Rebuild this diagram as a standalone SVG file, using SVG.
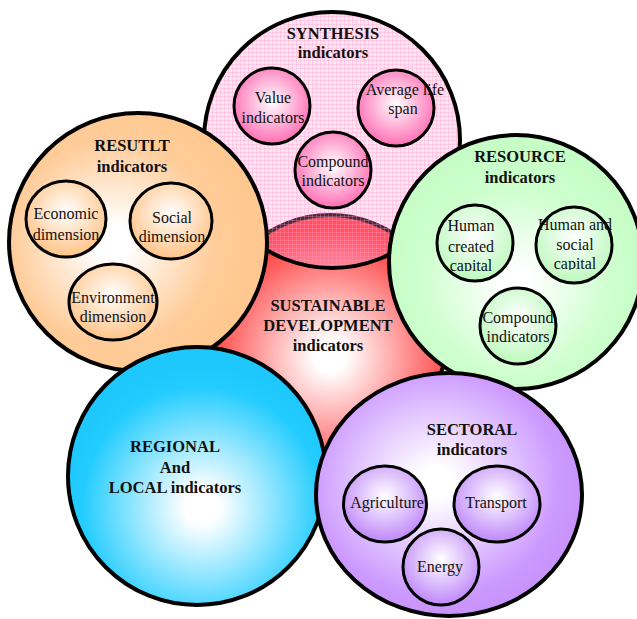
<svg xmlns="http://www.w3.org/2000/svg" width="637" height="619" viewBox="0 0 637 619">
<style>
.big{stroke:#000;stroke-width:4}
.sub{stroke:#000;stroke-width:3}
.t{font-family:"Liberation Serif","Times New Roman",serif;font-weight:bold;font-size:16.5px;fill:#111;text-anchor:middle}
.s{font-family:"Liberation Serif","Times New Roman",serif;font-size:16px;fill:#111;text-anchor:middle}
</style>
<defs>
<radialGradient id="gRed" cx="50%" cy="60%" r="55%"><stop offset="0" stop-color="#fff"/><stop offset="0.12" stop-color="#fff"/><stop offset="1" stop-color="#ff3333"/></radialGradient>
<radialGradient id="gOr" cx="40%" cy="50%" r="55%"><stop offset="0" stop-color="#fff"/><stop offset="0.12" stop-color="#fff"/><stop offset="0.72" stop-color="#ffcc99"/><stop offset="1" stop-color="#ffc890"/></radialGradient>
<radialGradient id="gGr" cx="50%" cy="58%" r="55%"><stop offset="0" stop-color="#fff"/><stop offset="0.1" stop-color="#fff"/><stop offset="0.7" stop-color="#ccffcc"/><stop offset="1" stop-color="#c6fcc6"/></radialGradient>
<radialGradient id="gBl" cx="52%" cy="62%" r="55%"><stop offset="0" stop-color="#fff"/><stop offset="0.12" stop-color="#fff"/><stop offset="0.85" stop-color="#22ccff"/><stop offset="1" stop-color="#1ec8fc"/></radialGradient>
<radialGradient id="gPu" cx="45%" cy="45%" r="55%"><stop offset="0" stop-color="#fff"/><stop offset="0.12" stop-color="#fff"/><stop offset="0.85" stop-color="#cc99ff"/><stop offset="1" stop-color="#c894fc"/></radialGradient>
<radialGradient id="sPk" cx="50%" cy="45%" r="55%"><stop offset="0" stop-color="#fff"/><stop offset="1" stop-color="#ff6fb5"/></radialGradient>
<radialGradient id="sOr" cx="50%" cy="40%" r="55%"><stop offset="0" stop-color="#fff"/><stop offset="1" stop-color="#ffc890"/></radialGradient>
<radialGradient id="sGr" cx="50%" cy="40%" r="55%"><stop offset="0" stop-color="#fff"/><stop offset="1" stop-color="#c2f9c2"/></radialGradient>
<radialGradient id="sPu" cx="50%" cy="40%" r="55%"><stop offset="0" stop-color="#fff"/><stop offset="1" stop-color="#c490fa"/></radialGradient>
<pattern id="grid" width="4" height="4" patternUnits="userSpaceOnUse">
<rect width="4" height="4" fill="#ffa0cf" fill-opacity="0.28"/>
<rect width="4" height="1" fill="#ff99cc" fill-opacity="0.3"/>
<rect width="1" height="4" fill="#ff99cc" fill-opacity="0.3"/>
</pattern>
<clipPath id="c1"><rect x="420" y="200" width="110" height="71"/></clipPath>
<clipPath id="c2"><rect x="520" y="200" width="110" height="70"/></clipPath>
</defs>

<g id="sustainable">
<circle class="big" cx="330" cy="333" r="118" fill="url(#gRed)"/>
</g>

<g id="synthesis">
<circle class="big" cx="332" cy="140" r="128" fill="url(#grid)"/>
<text class="t" x="333" y="39">SYNTHESIS</text>
<text class="t" x="333" y="58">indicators</text>
<g id="value"><circle class="sub" cx="272" cy="106" r="38" fill="url(#sPk)"/>
<text class="s" x="273" y="103">Value</text><text class="s" x="273" y="123">indicators</text></g>
<g id="lifespan"><circle class="sub" cx="396" cy="108" r="38" fill="url(#sPk)"/>
<text class="s" x="405" y="95">Average life</text><text class="s" x="403" y="114">span</text></g>
<g id="compound1"><circle class="sub" cx="333" cy="170" r="38" fill="url(#sPk)"/>
<text class="s" x="333" y="167">Compound</text><text class="s" x="333" y="186">indicators</text></g>
</g>

<text class="t" x="328" y="311">SUSTAINABLE</text>
<text class="t" x="328" y="331">DEVELOPMENT</text>
<text class="t" x="328" y="351">indicators</text>

<g id="result">
<circle class="big" cx="138" cy="242" r="129" fill="url(#gOr)"/>
<text class="t" x="132" y="151">RESUTLT</text>
<text class="t" x="132" y="172">indicators</text>
<g id="economic"><ellipse class="sub" cx="66" cy="219" rx="40" ry="38" fill="url(#sOr)"/>
<text class="s" x="66" y="219">Economic</text><text class="s" x="66" y="240">dimension</text></g>
<g id="social"><ellipse class="sub" cx="171" cy="221" rx="41" ry="38" fill="url(#sOr)"/>
<text class="s" x="172" y="223">Social</text><text class="s" x="172" y="242">dimension</text></g>
<g id="environment"><ellipse class="sub" cx="113" cy="302" rx="44" ry="38" fill="url(#sOr)"/>
<text class="s" x="113" y="303">Environment</text><text class="s" x="113" y="322">dimension</text></g>
</g>

<g id="resource">
<circle class="big" cx="516" cy="262" r="127" fill="url(#gGr)"/>
<text class="t" x="520" y="162">RESOURCE</text>
<text class="t" x="520" y="183">indicators</text>
<g id="humancreated"><circle class="sub" cx="475" cy="243" r="38" fill="url(#sGr)"/>
<g clip-path="url(#c1)"><text class="s" x="471" y="231">Human</text><text class="s" x="471" y="252">created</text><text class="s" x="471" y="271">capital</text></g></g>
<g id="humansocial"><circle class="sub" cx="574" cy="245" r="38" fill="url(#sGr)"/>
<g clip-path="url(#c2)"><text class="s" x="575" y="230">Human and</text><text class="s" x="575" y="250">social</text><text class="s" x="575" y="269">capital</text></g></g>
<g id="compound2"><circle class="sub" cx="518" cy="326" r="38" fill="url(#sGr)"/>
<text class="s" x="518" y="323">Compound</text><text class="s" x="518" y="342">indicators</text></g>
</g>

<g id="regional">
<circle class="big" cx="197" cy="476" r="129" fill="url(#gBl)"/>
<text class="t" x="175" y="452">REGIONAL</text>
<text class="t" x="175" y="473">And</text>
<text class="t" x="175" y="493">LOCAL indicators</text>
</g>

<g id="sectoral">
<ellipse class="big" cx="449" cy="494.5" rx="133" ry="121.5" fill="url(#gPu)"/>
<text class="t" x="472" y="435">SECTORAL</text>
<text class="t" x="472" y="455">indicators</text>
<g id="agriculture"><ellipse class="sub" cx="385" cy="504" rx="41.5" ry="38" fill="url(#sPu)"/>
<text class="s" x="387" y="508">Agriculture</text></g>
<g id="transport"><ellipse class="sub" cx="497" cy="504" rx="43" ry="38" fill="url(#sPu)"/>
<text class="s" x="496" y="508">Transport</text></g>
<g id="energy"><circle class="sub" cx="441" cy="567" r="38" fill="url(#sPu)"/>
<text class="s" x="440" y="572">Energy</text></g>
</g>

<g id="connectors"/>
</svg>
